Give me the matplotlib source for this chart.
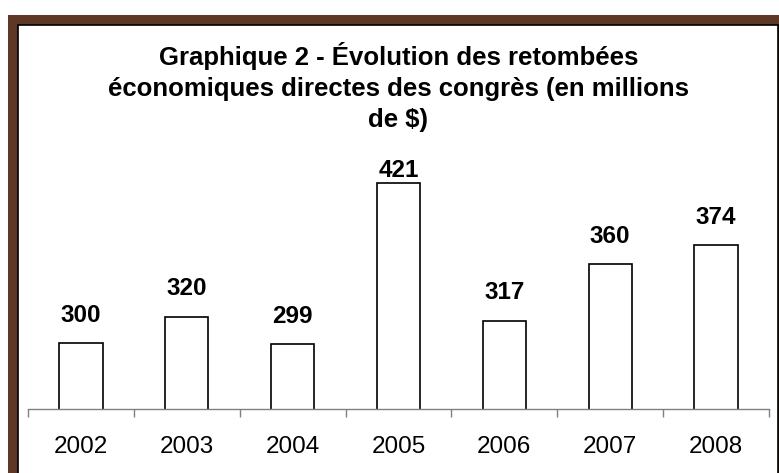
import matplotlib.pyplot as plt
from matplotlib.patches import Rectangle

plt.rcParams['font.family'] = ['Liberation Sans', 'DejaVu Sans']

# Chart data
years = ['2002', '2003', '2004', '2005', '2006', '2007', '2008']
values = [300, 320, 299, 421, 317, 360, 374]
title = "Graphique 2 - Évolution des retombées\néconomiques directes des congrès (en millions\nde $)"

W, H = 779, 473
fig = plt.figure(figsize=(W / 100, H / 100), dpi=100)

# brown frame, cropped on the right and bottom
fig.patches.append(Rectangle((8 / W, 0), 1, 1 - 15 / H, transform=fig.transFigure,
                             facecolor='#5e3727', edgecolor='none', zorder=0))
fig.patches.append(Rectangle((18 / W, -0.1), (778 - 18) / W, 1.1 - 25 / H,
                             transform=fig.transFigure, facecolor='white',
                             edgecolor='black', linewidth=1.2, zorder=1))

ax = fig.add_axes([28 / W, 1 - 409 / H, (769 - 28) / W, (409 - 145) / H])
ax.set_zorder(5)
ax.patch.set_visible(False)

x = list(range(len(years)))
bars = ax.bar(x, values, width=0.41, color='white', edgecolor='black', linewidth=1.2)

# labels sit above the bars, but are pushed down when they would hit the title
for xi, v in zip(x, values):
    ax.text(xi, min(v + 16, 426), str(v), ha='center', va='baseline',
            fontsize=17.5, fontweight='bold')

ax.set_xlim(-0.5, len(years) - 0.5)
ax.set_ylim(250, 450)

# category boundary ticks, labels in the middle
ax.set_xticks([i - 0.5 for i in range(len(years) + 1)])
ax.set_xticklabels([])
ax.set_xticks(x, minor=True)
ax.set_xticklabels(years, minor=True, fontsize=17.5)
ax.tick_params(axis='x', which='major', length=6, width=1, color='#808080', direction='out')
ax.tick_params(axis='x', which='minor', length=0, pad=19.5)

ax.set_yticks([])
for side in ['left', 'right', 'top']:
    ax.spines[side].set_visible(False)
ax.spines['bottom'].set_color('#808080')
ax.spines['bottom'].set_linewidth(1)

t = fig.text(398.5 / W, 1 - 42.5 / H, title, ha='center', va='top', fontsize=18.5,
             fontweight='bold', linespacing=1.36)
t.set_zorder(6)

fig.savefig('out.png', dpi=100)
